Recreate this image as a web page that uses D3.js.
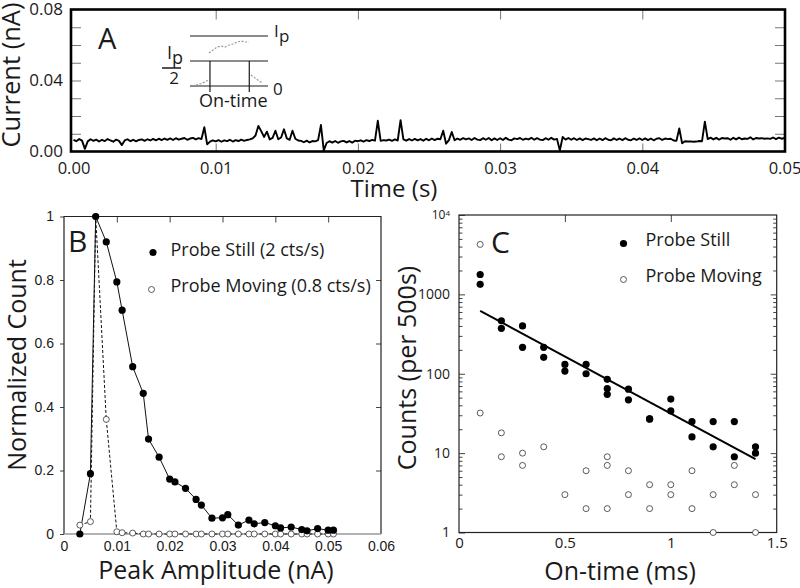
<!DOCTYPE html>
<html>
<head>
<meta charset="utf-8">
<script src="https://cdn.jsdelivr.net/npm/d3@7"></script>
<style>
  body { margin: 0; background: #fff; }
  svg { display: block; background: #fff; }
</style>
</head>
<body>
<svg id="chart" width="800" height="588"></svg>
<script>
// ---------- Panel A: current trace ----------
const traceStep = 0.0002; // seconds between samples
// current in units of 1e-4 nA
const traceCurrent = [
  66,58,70,61,15,57,69,60,67,56, 66,59,70,62,55,67,60,36,62,69, 58,66,57,65,68,
  60,69,62,71,63,72,64,73,66,74, 65,75,67,72,76,66,73,77,68,75, 70,137,40,56,63,
  57,64,55,63,58,66,56,64,59,67, 60,65,68,74,90,144,115,82,112,68, 77,117,69,79,125,
  74,66,117,72,62,60,52,61,51,59, 57,64,149,6,48,58,50,59,49,57, 60,51,59,50,61,
  58,63,56,64,59,66,61,173,60,64, 62,67,60,68,62,177,68,61,70,62, 71,63,70,61,72,
  63,73,64,72,69,117,44,64,110,63, 73,66,75,68,74,65,76,67,64,75, 66,76,63,74,65,
  75,65,77,67,63,74,70,76,66,73, 68,77,66,75,67,64,75,66,77,67, 71,6,82,67,76,
  66,75,65,74,64,73,70,65,74,63, 73,64,75,66,63,74,65,73,64,75, 66,63,73,65,74,
  65,74,64,73,63,72,75,65,73,70, 72,62,60,130,46,58,56,57,55,56, 59,58,168,70,78,
  68,77,67,76,73,75,66,77,68,78, 69,73,71,80,68,76,73,75,72,74, 71,79,70,78,72,
  76
];
const aXTicks = [0, 0.01, 0.02, 0.03, 0.04, 0.05];
const aXMinor = [0.01, 0.02, 0.03, 0.04];
const aYTicks = [0, 0.04, 0.08];
const aYMinor = [0.01, 0.02, 0.03, 0.04, 0.05, 0.06, 0.07];

// inset sketch (arbitrary units, 0 = baseline, 1 = Ip)
const insetU = [0.077, 0.128, 0.192, 0.231, null, 0.244, 0.295, 0.346, 0.397, 0.449, 0.5, 0.551, 0.603, 0.654, 0.705, 0.756, null, 0.782, 0.833, 0.885, 0.936];
const insetV = [0.02, 0.04, 0.08, 0.12, null, 0.66, 0.72, 0.78, 0.80, 0.78, 0.82, 0.84, 0.88, 0.90, 0.88, 0.88, null, 0.22, 0.16, 0.10, 0.06];
const insetLevels = [1, 0.5, 0];
const insetOnTime = [0.256, 0.76];

// ---------- Panel B: peak amplitude histogram ----------
const ampBins = [0.003, 0.005, 0.006, 0.008, 0.010, 0.011, 0.013, 0.015, 0.016, 0.018,
  0.020, 0.021, 0.023, 0.025, 0.026, 0.028, 0.030, 0.031, 0.033, 0.035,
  0.036, 0.038, 0.040, 0.041, 0.043, 0.045, 0.046, 0.048, 0.050, 0.051];
const stillNorm = [0, 0.19, 1.0, 0.92, 0.794, 0.705, 0.527, 0.443, 0.299, 0.242,
  0.173, 0.164, 0.144, 0.109, 0.091, 0.050, 0.051, 0.061, 0.028, 0.044,
  0.032, 0.036, 0.026, 0.019, 0.022, 0.014, 0.010, 0.017, 0.012, 0.012];
const movingNorm = [0.028, 0.039, 1.0, 0.361, 0.007, 0.004, 0.003, 0, 0, 0,
  0, 0, 0, 0, 0, 0, 0, 0, 0, 0,
  0, 0, 0, 0, 0, 0, 0, 0, 0, 0];
const bXTicks = [0, 0.01, 0.02, 0.03, 0.04, 0.05, 0.06];
const bYTicks = [0, 0.2, 0.4, 0.6, 0.8, 1];

// ---------- Panel C: on-time distribution ----------
const stillOnTime = [0.1, 0.1, 0.2, 0.2, 0.3, 0.3, 0.4, 0.4, 0.5, 0.5, 0.6, 0.6, 0.7, 0.7, 0.7,
  0.8, 0.8, 0.9, 0.9, 1.0, 1.0, 1.1, 1.1, 1.2, 1.2, 1.3, 1.3, 1.4, 1.4];
const stillCounts = [1780, 1340, 465, 373, 400, 215, 215, 161, 131, 108, 131, 100, 85, 65, 55,
  64, 47, 27, 27, 48, 34, 25, 16, 25, 12, 25, 9, 12, 10];
const movingOnTime = [0.1, 0.1, 0.2, 0.2, 0.3, 0.3, 0.4, 0.5, 0.6, 0.6, 0.7, 0.7, 0.7,
  0.8, 0.8, 0.9, 0.9, 1.0, 1.0, 1.1, 1.1, 1.2, 1.2, 1.3, 1.3, 1.4, 1.4];
const movingCounts = [4260, 32, 18, 9, 10, 7, 12, 3, 6, 2, 9, 7, 2,
  6, 3, 4, 2, 4, 3, 6, 2, 3, 1, 7, 4, 3, 1];
const fitOnTime = [0.1, 1.4];
const fitCounts = [620, 8.4];
const cXTicks = [0, 0.5, 1, 1.5];
const cXMinor = [0.5, 1];
const cYTicks = [1, 10, 100, 1000, 10000];

const SANS = "'Open Sans', 'Noto Sans', sans-serif";
const ARIAL = "'Liberation Sans', Arial, sans-serif";
const INK = "#1a1a1a";

const svg = d3.select("#chart");

// Remove domain path and set tick/text styles
function styleAxis(g, font, size, tickColor) {
    g.select(".domain").remove();
    g.attr("font-family", font).attr("font-size", size);
    g.selectAll(".tick line").attr("stroke", tickColor || "#666").attr("stroke-width", 1);
    g.selectAll(".tick text").attr("fill", INK);
}

function addText(x, y, str, size, opts = {}) {
    const t = svg.append("text")
        .attr("x", x).attr("y", y)
        .attr("font-family", opts.font || SANS)
        .attr("font-size", size)
        .attr("fill", INK)
        .attr("text-anchor", opts.anchor || "start")
        .text(str);
    return t;
}

function addRotated(x, y, str, size) {
    svg.append("text")
        .attr("transform", `translate(${x},${y}) rotate(-90)`)
        .attr("font-family", SANS)
        .attr("font-size", size)
        .attr("fill", INK)
        .attr("text-anchor", "middle")
        .text(str);
}

// ================= Panel A =================
const xA = d3.scaleLinear().domain([0, 0.05]).range([73.5, 784.5]);
const yA = d3.scaleLinear().domain([0, 0.08]).range([151.5, 9.5]);

svg.append("clipPath").attr("id", "clipA")
    .append("rect").attr("x", 71).attr("y", 9.5).attr("width", 714).attr("height", 142);

// inside tick marks on all four sides
svg.append("g").attr("transform", "translate(71,0)")
    .call(d3.axisLeft(yA).tickValues(aYMinor).tickSize(-10).tickFormat(""))
    .call(g => styleAxis(g, SANS, 16, "#777"));
svg.append("g").attr("transform", "translate(785,0)")
    .call(d3.axisRight(yA).tickValues(aYMinor).tickSize(-10).tickFormat(""))
    .call(g => styleAxis(g, SANS, 16, "#777"));
svg.append("g").attr("transform", "translate(0,9.5)")
    .call(d3.axisTop(xA).tickValues(aXMinor).tickSize(-10).tickFormat(""))
    .call(g => styleAxis(g, SANS, 16, "#777"));
svg.append("g").attr("transform", "translate(0,151.5)")
    .call(d3.axisBottom(xA).tickValues(aXMinor).tickSize(-8).tickFormat(""))
    .call(g => styleAxis(g, SANS, 16, "#777"));

// tick labels
svg.append("g").attr("transform", "translate(71,0)")
    .call(d3.axisLeft(yA).tickValues(aYTicks).tickSize(0).tickPadding(8).tickFormat(d3.format(".2f")))
    .call(g => styleAxis(g, SANS, 17));
svg.append("g").attr("transform", "translate(0,151.5)")
    .call(d3.axisBottom(xA).tickValues(aXTicks).tickSize(0).tickPadding(10.5).tickFormat(d3.format(".2f")))
    .call(g => styleAxis(g, SANS, 16.5));

// the trace itself
const traceLine = d3.line()
    .x((d, i) => xA(i * traceStep))
    .y(d => yA(d * 1e-4));
svg.append("path")
    .datum(traceCurrent)
    .attr("clip-path", "url(#clipA)")
    .attr("d", traceLine)
    .attr("fill", "none")
    .attr("stroke", "#000")
    .attr("stroke-width", 1.9)
    .attr("stroke-linejoin", "round");

svg.append("rect")
    .attr("x", 71).attr("y", 9.5).attr("width", 714).attr("height", 142)
    .attr("fill", "none").attr("stroke", "#000").attr("stroke-width", 2.6);

addText(98, 49, "A", 29);
addRotated(20, 75, "Current (nA)", 25.5);
addText(394, 197, "Time (s)", 24, { anchor: "middle" });

// inset sketch
const xI = d3.scaleLinear().domain([0, 1]).range([190, 268]);
const yI = d3.scaleLinear().domain([0, 1]).range([86, 36]);
const gI = svg.append("g");
gI.selectAll(".lvl").data(insetLevels).enter().append("line")
    .attr("x1", xI(0)).attr("x2", xI(1))
    .attr("y1", d => yI(d)).attr("y2", d => yI(d))
    .attr("stroke", INK).attr("stroke-width", 1.2);
gI.selectAll(".ot").data(insetOnTime).enter().append("line")
    .attr("x1", d => xI(d)).attr("x2", d => xI(d))
    .attr("y1", yI(0.5)).attr("y2", yI(-0.12))
    .attr("stroke", INK).attr("stroke-width", 1.2);
const insetPts = insetU.map((u, i) => ({ u: u, v: insetV[i] }));
gI.append("path")
    .datum(insetPts)
    .attr("d", d3.line().defined(d => d.u !== null).x(d => xI(d.u)).y(d => yI(d.v)))
    .attr("fill", "none").attr("stroke", "#999").attr("stroke-width", 1.2)
    .attr("stroke-dasharray", "2,1.6");

addText(274, 37, "I", 17);
addText(279, 42, "p", 17);
addText(167, 59, "I", 18);
addText(172, 64, "p", 18);
svg.append("line").attr("x1", 162).attr("x2", 181).attr("y1", 68).attr("y2", 68)
    .attr("stroke", INK).attr("stroke-width", 1.5);
addText(174, 84, "2", 17, { anchor: "middle" });
addText(199, 107, "On-time", 18);
addText(273, 95, "0", 17);

// ================= Panel B =================
const xB = d3.scaleLinear().domain([0, 0.06]).range([64, 381]);
const yB = d3.scaleLinear().domain([0, 1]).range([534, 216.5]);

svg.append("g").attr("transform", "translate(64,0)")
    .call(d3.axisLeft(yB).tickValues(bYTicks).tickSize(4).tickPadding(6).tickFormat(d3.format("~g")))
    .call(g => styleAxis(g, ARIAL, 14, "#444"));
svg.append("g").attr("transform", "translate(381,0)")
    .call(d3.axisRight(yB).tickValues(bYTicks.slice(1, 5)).tickSize(-5).tickFormat(""))
    .call(g => styleAxis(g, ARIAL, 14, "#444"));
svg.append("g").attr("transform", "translate(0,216.5)")
    .call(d3.axisTop(xB).tickValues(bXTicks.slice(1, 6)).tickSize(-6).tickFormat(""))
    .call(g => styleAxis(g, ARIAL, 14, "#444"));
svg.append("g").attr("transform", "translate(0,534)")
    .call(d3.axisBottom(xB).tickValues(bXTicks).tickSize(0).tickPadding(7).tickFormat(d3.format("~g")))
    .call(g => styleAxis(g, ARIAL, 14));

// frame: dark left/top/right, grey bottom
svg.append("path")
    .attr("d", `M${xB(0)},${yB(0)}V${yB(1)}H${xB(0.06)}V${yB(0)}`)
    .attr("fill", "none").attr("stroke", "#222").attr("stroke-width", 1.2);
svg.append("line")
    .attr("x1", xB(0)).attr("x2", xB(0.06)).attr("y1", yB(0)).attr("y2", yB(0))
    .attr("stroke", "#999").attr("stroke-width", 1.6);

const stillPts = ampBins.map((a, i) => ({ a: a, n: stillNorm[i] }));
const movingPts = ampBins.map((a, i) => ({ a: a, n: movingNorm[i] }));
const lineB = d3.line().x(d => xB(d.a)).y(d => yB(d.n));

svg.append("path").datum(movingPts).attr("d", lineB)
    .attr("fill", "none").attr("stroke", "#111").attr("stroke-width", 1)
    .attr("stroke-dasharray", "3,2");
svg.append("path").datum(stillPts).attr("d", lineB)
    .attr("fill", "none").attr("stroke", "#111").attr("stroke-width", 1);
svg.selectAll(".bmov").data(movingPts).enter().append("circle")
    .attr("cx", d => xB(d.a)).attr("cy", d => yB(d.n)).attr("r", 3)
    .attr("fill", "#fff").attr("stroke", "#333").attr("stroke-width", 0.8);
svg.selectAll(".bstill").data(stillPts).enter().append("circle")
    .attr("cx", d => xB(d.a)).attr("cy", d => yB(d.n)).attr("r", 3.6)
    .attr("fill", "#000");

addText(68, 252, "B", 30);
svg.append("circle").attr("cx", 153).attr("cy", 252.5).attr("r", 3.6).attr("fill", "#000");
svg.append("circle").attr("cx", 151.5).attr("cy", 289.5).attr("r", 3)
    .attr("fill", "#fff").attr("stroke", "#333").attr("stroke-width", 0.8);
addText(170.5, 256, "Probe Still (2 cts/s)", 18);
addText(170.5, 292, "Probe Moving (0.8 cts/s)", 18);
addRotated(26, 365, "Normalized Count", 25);
addText(216, 579, "Peak Amplitude (nA)", 25, { anchor: "middle" });

// ================= Panel C =================
const xC = d3.scaleLinear().domain([0, 1.5]).range([459, 776.7]);
const yC = d3.scaleLog().domain([1, 1e4]).range([532.5, 215]);
const cYMinor = yC.ticks().filter(d => !cYTicks.includes(d));

svg.append("g").attr("transform", "translate(459,0)")
    .call(d3.axisLeft(yC).tickValues(cYMinor).tickSize(-3.5).tickFormat(""))
    .call(g => styleAxis(g, SANS, 14, "#444"));
svg.append("g").attr("transform", "translate(776.7,0)")
    .call(d3.axisRight(yC).tickValues(cYMinor).tickSize(-3.5).tickFormat(""))
    .call(g => styleAxis(g, SANS, 14, "#444"));
svg.append("g").attr("transform", "translate(776.7,0)")
    .call(d3.axisRight(yC).tickValues(cYTicks.slice(1, 4)).tickSize(-6).tickFormat(""))
    .call(g => styleAxis(g, SANS, 14, "#444"));
svg.append("g").attr("transform", "translate(0,215)")
    .call(d3.axisTop(xC).tickValues(cXMinor).tickSize(-7).tickFormat(""))
    .call(g => styleAxis(g, SANS, 14, "#444"));

const cLeft = svg.append("g").attr("transform", "translate(459,0)")
    .call(d3.axisLeft(yC).tickValues(cYTicks).tickSize(-6).tickPadding(9)
        .tickFormat(d => d === 1e4 ? "" : d3.format("d")(d)))
    .call(g => styleAxis(g, SANS, 14, "#444"));
// 10^4 label with superscript
cLeft.selectAll(".tick text").filter(d => d === 1e4)
    .attr("font-size", 12)
    .call(t => {
        t.append("tspan").text("10");
        t.append("tspan").attr("dy", "-0.45em").attr("font-size", 8).text("4");
    });
svg.append("g").attr("transform", "translate(0,532.5)")
    .call(d3.axisBottom(xC).tickValues(cXTicks).tickSize(0).tickPadding(5).tickFormat(d3.format("~g")))
    .call(g => styleAxis(g, SANS, 15));

svg.append("rect")
    .attr("x", 459).attr("y", 215).attr("width", 317.7).attr("height", 317.5)
    .attr("fill", "none").attr("stroke", "#222").attr("stroke-width", 1.2);

const fitPts = fitOnTime.map((t, i) => ({ t: t, c: fitCounts[i] }));
svg.append("path").datum(fitPts)
    .attr("d", d3.line().x(d => xC(d.t)).y(d => yC(d.c)))
    .attr("stroke", "#000").attr("stroke-width", 2);

svg.selectAll(".cmov").data(movingOnTime).enter().append("circle")
    .attr("cx", d => xC(d)).attr("cy", (d, i) => yC(movingCounts[i])).attr("r", 3)
    .attr("fill", "#fff").attr("stroke", "#333").attr("stroke-width", 0.8);
svg.selectAll(".cstill").data(stillOnTime).enter().append("circle")
    .attr("cx", d => xC(d)).attr("cy", (d, i) => yC(stillCounts[i])).attr("r", 3.6)
    .attr("fill", "#000");

addText(491, 253, "C", 30);
svg.append("circle").attr("cx", 623.5).attr("cy", 243.5).attr("r", 3.6).attr("fill", "#000");
svg.append("circle").attr("cx", 623.5).attr("cy", 279.5).attr("r", 3)
    .attr("fill", "#fff").attr("stroke", "#333").attr("stroke-width", 0.8);
addText(645.5, 246, "Probe Still", 18);
addText(645.5, 282, "Probe Moving", 18);
addRotated(416, 368, "Counts (per 500s)", 25);
addText(620, 580, "On-time (ms)", 25, { anchor: "middle" });
</script>
</body>
</html>
